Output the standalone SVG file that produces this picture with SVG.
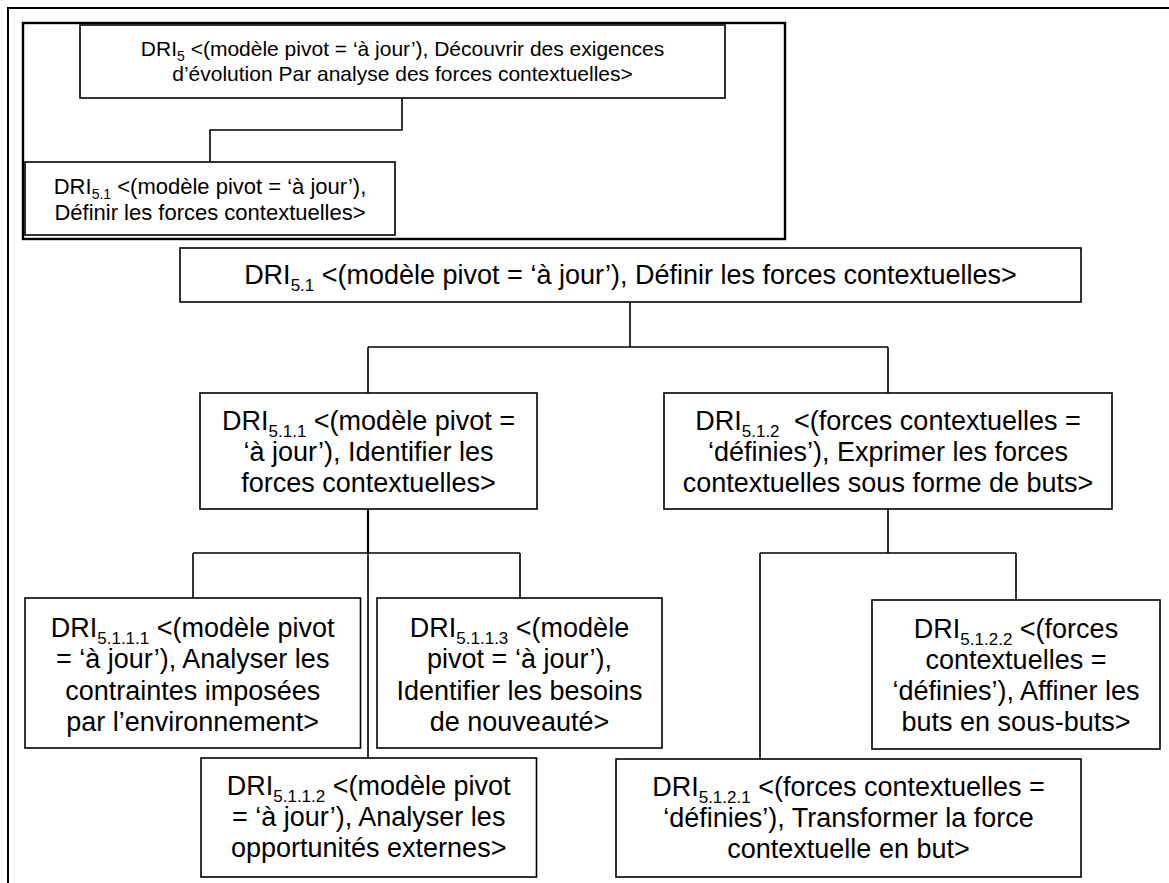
<svg xmlns="http://www.w3.org/2000/svg" width="1169" height="883" viewBox="0 0 1169 883">
<style>
.box{fill:#fff;stroke:#000;stroke-width:1.6}
.frame{fill:none;stroke:#000;stroke-width:2}
.c{fill:none;stroke:#000;stroke-width:1.6}
.t{font-family:"Liberation Sans",Arial,sans-serif;font-size:27px;text-anchor:middle;fill:#000}
.s{font-size:22px}
.s2{font-size:21px}
.sub{font-size:17px}
.subs{font-size:14px}
</style>
<rect width="1169" height="883" fill="#fff"/>
<path class="frame" d="M8,883 V8 H1169"/>
<rect class="frame" x="23" y="23" width="762" height="216" style="stroke-width:2.4"/>

<g id="connectors">
<path class="c" d="M402,98 V130 H210 V162"/>
<path class="c" d="M630,302 V347 M368,347 H888 M368,347 V393 M888,347 V393"/>
<path class="c" d="M368,509 V553" style="stroke-width:2.2"/>
<path class="c" d="M368,553 V758 M193,553 H520 M193,553 V598 M520,553 V598"/>
<path class="c" d="M888,509 V553 M760,553 H1016 M760,553 V759 M1016,553 V600"/>
</g>

<g id="n_dri5">
<rect class="box" x="80" y="25" width="645" height="73"/>
<text class="t s2" x="402.5" y="56">DRI<tspan class="subs" dy="5">5</tspan><tspan dy="-5"> &lt;(modèle pivot = ‘à jour’), Découvrir des exigences</tspan></text>
<text class="t s2" x="402.5" y="81">d’évolution Par analyse des forces contextuelles&gt;</text>
</g>

<g id="n_dri51_inset">
<rect class="box" x="25" y="162" width="370" height="73"/>
<text class="t s" x="210" y="194">DRI<tspan class="subs" dy="5">5.1</tspan><tspan dy="-5"> &lt;(modèle pivot = ‘à jour’),</tspan></text>
<text class="t s" x="210" y="220">Définir les forces contextuelles&gt;</text>
</g>

<g id="n_dri51">
<rect class="box" x="180" y="248" width="901" height="54"/>
<text class="t" x="630.5" y="284">DRI<tspan class="sub" dy="7">5.1</tspan><tspan dy="-7"> &lt;(modèle pivot = ‘à jour’), Définir les forces contextuelles&gt;</tspan></text>
</g>

<g id="n_dri511">
<rect class="box" x="200" y="393" width="337" height="116"/>
<text class="t" x="368.5" y="430">DRI<tspan class="sub" dy="7">5.1.1</tspan><tspan dy="-7"> &lt;(modèle pivot =</tspan></text>
<text class="t" x="368.5" y="461">‘à jour’), Identifier les</text>
<text class="t" x="368.5" y="492">forces contextuelles&gt;</text>
</g>

<g id="n_dri512">
<rect class="box" x="664" y="393" width="448" height="116"/>
<text class="t" x="888" y="430">DRI<tspan class="sub" dy="7">5.1.2</tspan><tspan dy="-7" dx="7"> &lt;(forces contextuelles =</tspan></text>
<text class="t" x="888" y="461">‘définies’), Exprimer les forces</text>
<text class="t" x="888" y="492">contextuelles sous forme de buts&gt;</text>
</g>

<g id="n_dri5111">
<rect class="box" x="25" y="598" width="335.5" height="150"/>
<text class="t" x="192.7" y="637">DRI<tspan class="sub" dy="7">5.1.1.1</tspan><tspan dy="-7"> &lt;(modèle pivot</tspan></text>
<text class="t" x="192.7" y="668">= ‘à jour’), Analyser les</text>
<text class="t" x="192.7" y="700">contraintes imposées</text>
<text class="t" x="192.7" y="731">par l’environnement&gt;</text>
</g>

<g id="n_dri5113">
<rect class="box" x="377" y="598" width="285" height="150"/>
<text class="t" x="519.5" y="637">DRI<tspan class="sub" dy="7">5.1.1.3</tspan><tspan dy="-7"> &lt;(modèle</tspan></text>
<text class="t" x="519.5" y="668">pivot = ‘à jour’),</text>
<text class="t" x="519.5" y="700">Identifier les besoins</text>
<text class="t" x="519.5" y="731">de nouveauté&gt;</text>
</g>

<g id="n_dri5112">
<rect class="box" x="201" y="758" width="335.5" height="119"/>
<text class="t" x="368.7" y="795">DRI<tspan class="sub" dy="7">5.1.1.2</tspan><tspan dy="-7"> &lt;(modèle pivot</tspan></text>
<text class="t" x="368.7" y="826">= ‘à jour’), Analyser les</text>
<text class="t" x="368.7" y="857">opportunités externes&gt;</text>
</g>

<g id="n_dri5122">
<rect class="box" x="872" y="600" width="288" height="149"/>
<text class="t" x="1016" y="638">DRI<tspan class="sub" dy="7">5.1.2.2</tspan><tspan dy="-7"> &lt;(forces</tspan></text>
<text class="t" x="1016" y="669">contextuelles =</text>
<text class="t" x="1016" y="700">‘définies’), Affiner les</text>
<text class="t" x="1016" y="731">buts en sous-buts&gt;</text>
</g>

<g id="n_dri5121">
<rect class="box" x="616" y="759" width="465" height="118"/>
<text class="t" x="848.5" y="796">DRI<tspan class="sub" dy="7">5.1.2.1</tspan><tspan dy="-7"> &lt;(forces contextuelles =</tspan></text>
<text class="t" x="848.5" y="827">‘définies’), Transformer la force</text>
<text class="t" x="848.5" y="858">contextuelle en but&gt;</text>
</g>
</svg>
